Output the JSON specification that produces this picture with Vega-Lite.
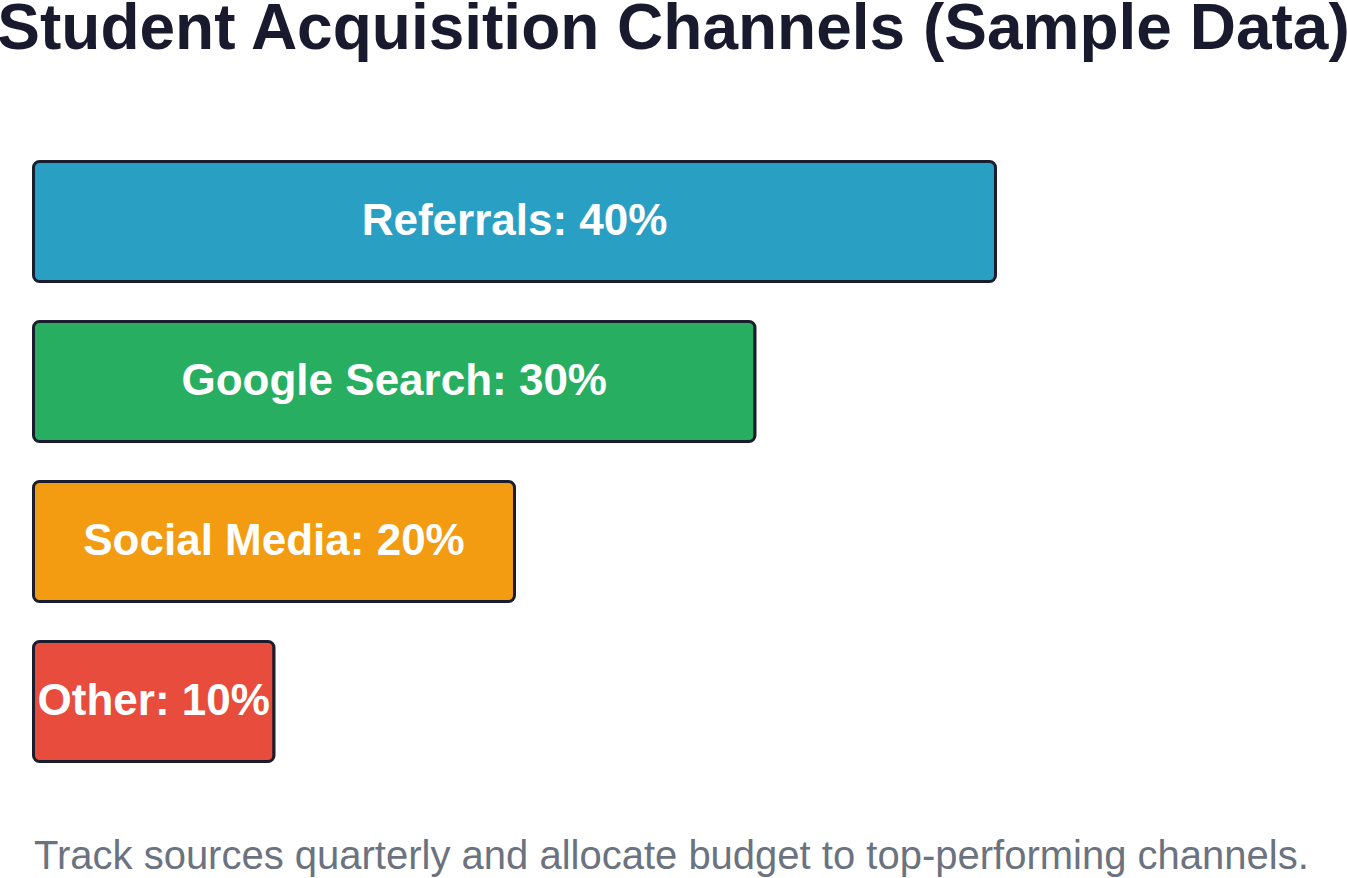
{
  "$schema": "https://vega.github.io/schema/vega-lite/v6.json",
  "autosize": {"type": "none"},
  "padding": {"left": 33.5, "top": 141.5, "right": 0, "bottom": 96.5},
  "width": 1313.5,
  "height": 640,
  "background": "#ffffff",
  "config": {"view": {"stroke": null}, "font": "Liberation Sans"},
  "title": {
    "text": "Student Acquisition Channels (Sample Data)",
    "font": "Liberation Sans",
    "fontSize": 64,
    "fontWeight": "bold",
    "color": "#1a1a2e",
    "anchor": "middle",
    "frame": "group",
    "dx": -16.75,
    "offset": 80
  },
  "data": {
    "values": [
      {"channel": "Referrals", "pct": 40, "label": "Referrals: 40%"},
      {"channel": "Google Search", "pct": 30, "label": "Google Search: 30%"},
      {"channel": "Social Media", "pct": 20, "label": "Social Media: 20%"},
      {"channel": "Other", "pct": 10, "label": "Other: 10%"}
    ]
  },
  "layer": [
    {
      "mark": {"type": "bar", "cornerRadius": 6, "stroke": "#1a1d2e", "strokeWidth": 3},
      "encoding": {
        "y": {
          "field": "channel",
          "type": "nominal",
          "sort": null,
          "axis": null,
          "scale": {"paddingInner": 0.25, "paddingOuter": 0.125}
        },
        "x": {
          "field": "pct",
          "type": "quantitative",
          "scale": {"domain": [0, 54.616], "nice": false},
          "axis": {
            "title": "Track sources quarterly and allocate budget to top-performing channels.",
            "titleAnchor": "start",
            "titleAlign": "left",
            "titleBaseline": "alphabetic",
            "titleFont": "Liberation Sans",
            "titleFontSize": 40,
            "titleFontWeight": "normal",
            "titleColor": "#6b7280",
            "titlePadding": 86.5,
            "labels": false,
            "ticks": false,
            "domain": false,
            "grid": false
          }
        },
        "color": {
          "field": "channel",
          "type": "nominal",
          "scale": {
            "domain": ["Referrals", "Google Search", "Social Media", "Other"],
            "range": ["#2a9fc4", "#27ae60", "#f39c12", "#e74c3c"]
          },
          "legend": null
        }
      }
    },
    {
      "mark": {
        "type": "text",
        "font": "Liberation Sans",
        "fontSize": 44,
        "fontWeight": "bold",
        "color": "#ffffff",
        "align": "center",
        "baseline": "middle"
      },
      "encoding": {
        "y": {"field": "channel", "type": "nominal", "sort": null, "axis": null},
        "x": {
          "field": "pct",
          "type": "quantitative",
          "scale": {"domain": [0, 109.232], "nice": false},
          "axis": null
        },
        "text": {"field": "label", "type": "nominal"}
      }
    }
  ],
  "resolve": {"scale": {"x": "independent"}}
}
